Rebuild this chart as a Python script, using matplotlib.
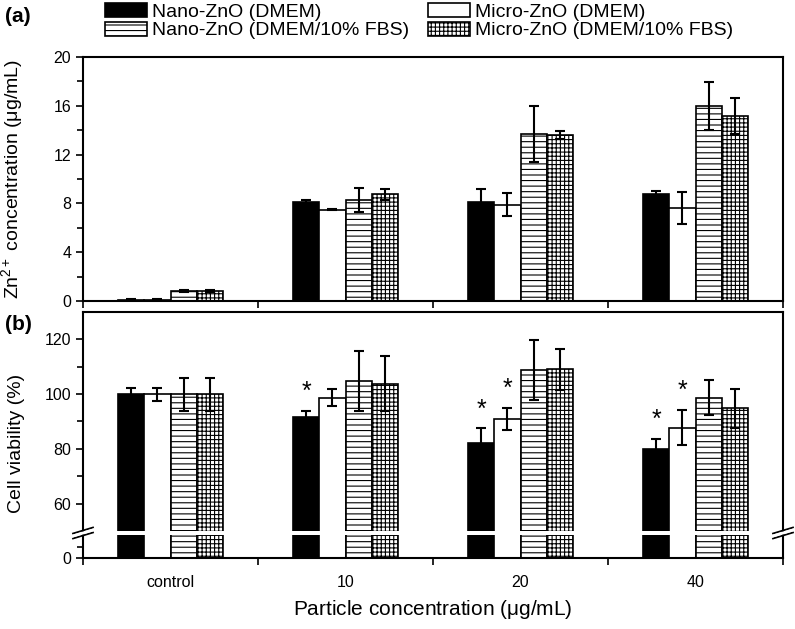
import numpy as np
import matplotlib
matplotlib.use("Agg")
import matplotlib.pyplot as plt
from matplotlib.lines import Line2D
from matplotlib.patches import Patch
from matplotlib.ticker import MultipleLocator, FixedLocator, NullFormatter, FixedFormatter

plt.rcParams['font.family'] = ['Liberation Sans', 'DejaVu Sans']
plt.rcParams['mathtext.fontset'] = 'custom'
plt.rcParams['mathtext.rm'] = 'Liberation Sans'
plt.rcParams['mathtext.it'] = 'Liberation Sans:italic'
plt.rcParams['hatch.linewidth'] = 0.8

# ---------------- data ----------------
categories = ['control', '10', '20', '40']
series_names = ['Nano-ZnO (DMEM)', 'Micro-ZnO (DMEM)',
                'Nano-ZnO (DMEM/10% FBS)', 'Micro-ZnO (DMEM/10% FBS)']

# (a) Zn2+ concentration (ug/mL)
zn_nano_dmem = [0.1, 8.1, 8.1, 8.8]
zn_nano_dmem_err = [0.05, 0.15, 1.1, 0.2]
zn_micro_dmem = [0.1, 7.5, 7.9, 7.6]
zn_micro_dmem_err = [0.05, 0.05, 0.95, 1.3]
zn_nano_fbs = [0.8, 8.3, 13.7, 16.0]
zn_nano_fbs_err = [0.1, 1.0, 2.3, 1.95]
zn_micro_fbs = [0.8, 8.75, 13.6, 15.15]
zn_micro_fbs_err = [0.1, 0.45, 0.35, 1.5]

# (b) Cell viability (%)
cv_nano_dmem = [100, 91.6, 82.3, 80.1]
cv_nano_dmem_err = [2.3, 2.2, 5.2, 3.4]
cv_micro_dmem = [100, 98.7, 91.0, 87.8]
cv_micro_dmem_err = [2.4, 3.0, 4.1, 6.5]
cv_nano_fbs = [100, 104.8, 108.8, 98.7]
cv_nano_fbs_err = [6.0, 10.8, 11.0, 6.3]
cv_micro_fbs = [100, 103.8, 109.0, 94.8]
cv_micro_fbs_err = [6.0, 10.1, 7.6, 7.0]

# significance markers (*)
sig_nano_dmem = [False, True, True, True]
sig_micro_dmem = [False, False, True, True]

# ---------------- styles ----------------
styles = [dict(facecolor='black', hatch=None),
          dict(facecolor='white', hatch=None),
          dict(facecolor='white', hatch='---'),
          dict(facecolor='white', hatch='++++')]
w = 0.15
offsets = [-1.5 * w, -0.5 * w, 0.5 * w, 1.5 * w]
x = np.arange(len(categories))

W, H = 795, 629
fig = plt.figure(figsize=(W / 100, H / 100), dpi=100)

def fr(left, top, right, bottom):
    return [left / W, 1 - bottom / H, (right - left) / W, (bottom - top) / H]

L, R = 83, 783
ax_a = fig.add_axes(fr(L, 57, R, 301))
ax_bt = fig.add_axes(fr(L, 312, R, 531))
ax_bb = fig.add_axes(fr(L, 535, R, 558))

TICK_FS = 11.5

def style_axis(ax):
    for s in ax.spines.values():
        s.set_linewidth(1.5)
    ax.tick_params(axis='both', which='both', direction='out', width=1.2,
                   labelsize=TICK_FS, colors='black')
    ax.tick_params(which='major', length=5)
    ax.tick_params(which='minor', length=4)
    ax.set_xlim(-0.5, 3.5)
    ax.xaxis.set_major_locator(FixedLocator([-0.5, 0.5, 1.5, 2.5, 3.5]))
    ax.xaxis.set_major_formatter(NullFormatter())

def draw_bars(ax, vals, errs, show_err=True):
    for i in range(4):
        ax.bar(x + offsets[i], vals[i], width=w, color=styles[i]['facecolor'],
               hatch=styles[i]['hatch'], edgecolor='black', linewidth=1.2, zorder=2)
        if show_err:
            ax.errorbar(x + offsets[i], vals[i], yerr=errs[i], fmt='none',
                        ecolor='black', elinewidth=1.5, capsize=3.6,
                        capthick=1.5, zorder=3)

# ---- panel (a)
zn_vals = [zn_nano_dmem, zn_micro_dmem, zn_nano_fbs, zn_micro_fbs]
zn_errs = [zn_nano_dmem_err, zn_micro_dmem_err, zn_nano_fbs_err, zn_micro_fbs_err]
style_axis(ax_a)
draw_bars(ax_a, zn_vals, zn_errs)
ax_a.set_ylim(0, 20)
ax_a.yaxis.set_major_locator(MultipleLocator(4))
ax_a.yaxis.set_minor_locator(MultipleLocator(2))
ax_a.set_ylabel(r'Zn$^{\mathregular{2+}}$ concentration ($\mathregular{\mu}$g/mL)',
                fontsize=14)
ax_a.yaxis.set_label_coords(-0.083, 0.5)

# ---- panel (b)
cv_vals = [cv_nano_dmem, cv_micro_dmem, cv_nano_fbs, cv_micro_fbs]
cv_errs = [cv_nano_dmem_err, cv_micro_dmem_err, cv_nano_fbs_err, cv_micro_fbs_err]
style_axis(ax_bt)
style_axis(ax_bb)
draw_bars(ax_bt, cv_vals, cv_errs)
draw_bars(ax_bb, cv_vals, cv_errs, show_err=False)
ax_bt.set_ylim(50, 130)
ax_bt.yaxis.set_major_locator(FixedLocator([60, 80, 100, 120]))
ax_bt.yaxis.set_minor_locator(FixedLocator([70, 90, 110]))
ax_bt.spines['bottom'].set_visible(False)
ax_bt.tick_params(axis='x', which='both', length=0)
ax_bb.set_ylim(0, 10)
ax_bb.yaxis.set_major_locator(FixedLocator([0]))
ax_bb.yaxis.set_minor_locator(FixedLocator([5]))
ax_bb.spines['top'].set_visible(False)
ax_bb.xaxis.set_minor_locator(FixedLocator(list(x)))
ax_bb.xaxis.set_minor_formatter(FixedFormatter(categories))
ax_bb.tick_params(axis='x', which='minor', length=0, pad=12, labelsize=TICK_FS)
ax_bb.set_xlabel('Particle concentration ($\\mathregular{\\mu}$g/mL)', fontsize=15, labelpad=6)

ax_bt.set_ylabel('Cell viability (%)', fontsize=14)
ax_bt.yaxis.set_label_coords(-0.083, 0.4)

# asterisks
for i, sig in [(0, sig_nano_dmem), (1, sig_micro_dmem)]:
    for j in range(4):
        if sig[j]:
            top = cv_vals[i][j] + cv_errs[i][j]
            ax_bt.annotate('*', (x[j] + offsets[i], top), xytext=(0, 5),
                           textcoords='offset points', ha='center', va='bottom',
                           fontsize=18)

# connect spines through the break gap + break marks
for xp in (L, R):
    fig.add_artist(Line2D([xp / W, xp / W], [1 - 535 / H, 1 - 531 / H],
                          transform=fig.transFigure, color='black', lw=1.5))
    for dy in (-2.5, 2.5):
        fig.add_artist(Line2D([(xp - 10) / W, (xp + 10) / W],
                              [1 - (533 + dy + 3) / H, 1 - (533 + dy - 3) / H],
                              transform=fig.transFigure, color='black', lw=1.3))
    fig.add_artist(Line2D([(xp - 10) / W, (xp + 10) / W],
                          [1 - (533 + 3) / H, 1 - (533 - 3) / H],
                          transform=fig.transFigure, color='white', lw=2.0))

# panel labels
fig.text(5 / W, 1 - 17 / H, '(a)', fontsize=15, fontweight='bold', va='center', ha='left')
fig.text(5 / W, 1 - 324 / H, '(b)', fontsize=15, fontweight='bold', va='center', ha='left')

# legend
handles = [Patch(facecolor=s['facecolor'], hatch=s['hatch'], edgecolor='black', linewidth=1.2)
           for s in styles]
order = [0, 2, 1, 3]
fig.legend([handles[k] for k in order], [series_names[k] for k in order],
           ncol=2, loc='upper left', bbox_to_anchor=(105 / W, 1 - 3 / H),
           frameon=False, fontsize=14, borderpad=0, borderaxespad=0,
           handlelength=2.15, handleheight=0.72, handletextpad=0.25,
           labelspacing=0.05, columnspacing=1.0)

fig.savefig('out.png', dpi=100)
